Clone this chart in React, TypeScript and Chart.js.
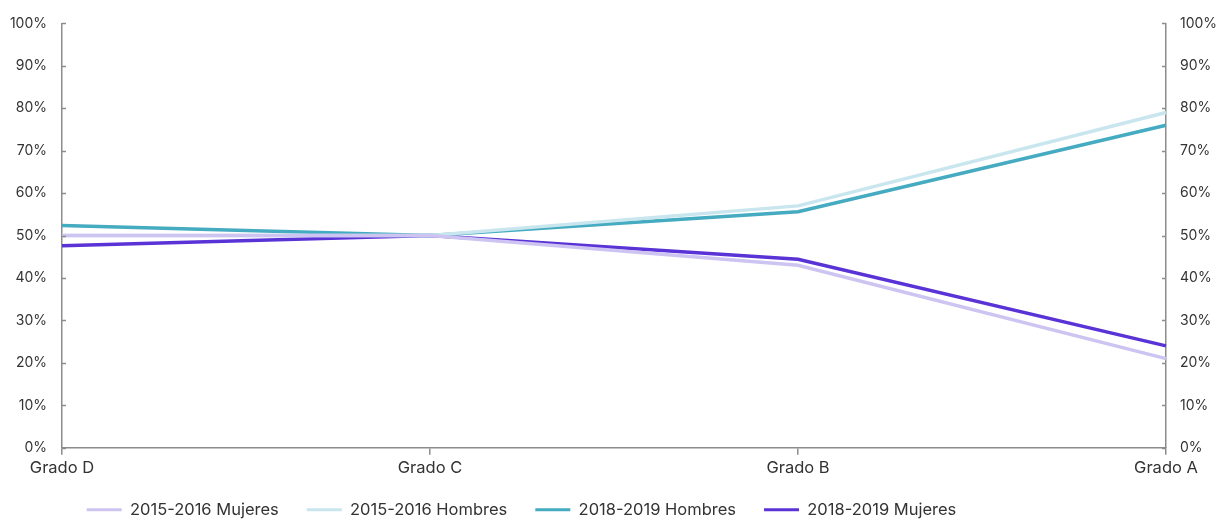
import React, { useEffect, useRef } from "react";
import { Chart, registerables } from "chart.js";

Chart.register(...registerables);

const categories = ["Grado D", "Grado C", "Grado B", "Grado A"];
const mujeres1516 = [50, 50, 43, 21];
const hombres1516 = [50, 50, 57, 79];
const hombres1819 = [52.4, 50, 55.6, 76];
const mujeres1819 = [47.6, 50, 44.4, 24];
const yTicks = [0, 10, 20, 30, 40, 50, 60, 70, 80, 90, 100];

const FONT = "Inter, 'Noto Sans', sans-serif";

const innerTicks = {
  id: "innerTicks",
  beforeDraw(chart: any) {
    if (chart.legend) {
      chart.legend.right = chart.legend.left + 1027;
    }
  },
  afterDraw(chart: any) {
    const ctx = chart.ctx;
    ctx.save();
    ctx.strokeStyle = "#8c8c8c";
    ctx.lineWidth = 1.5;
    ["y", "y2"].forEach((id) => {
      const s = chart.scales[id];
      if (!s) return;
      const x = id === "y" ? chart.chartArea.left : chart.chartArea.right;
      const dir = id === "y" ? 1 : -1;
      s.ticks.forEach((t: any) => {
        const py = Math.round(s.getPixelForValue(t.value)) + 0.5;
        ctx.beginPath();
        ctx.moveTo(x, py);
        ctx.lineTo(x + dir * 4, py);
        ctx.stroke();
      });
    });
    ctx.restore();
  },
};

export default function App() {
  const ref = useRef<HTMLCanvasElement | null>(null);
  useEffect(() => {
    document.body.style.margin = "0";
    const ds = (label: string, data: number[], color: string) => ({
      label,
      data,
      borderColor: color,
      backgroundColor: color,
      borderWidth: 3.5,
      pointRadius: 0,
      tension: 0,
      yAxisID: "y",
    });
    const chart = new Chart(ref.current as HTMLCanvasElement, {
      type: "line",
      data: {
        labels: categories,
        datasets: [
          ds("2015-2016 Mujeres", mujeres1516, "#cdc4f1"),
          ds("2015-2016 Hombres", hombres1516, "#c9e6ef"),
          ds("2018-2019 Hombres", hombres1819, "#45abc1"),
          ds("2018-2019 Mujeres", mujeres1819, "#5a33d6"),
        ],
      },
      options: {
        animation: false,
        responsive: true,
        maintainAspectRatio: false,
        layout: { padding: { left: 8, right: 4, top: 6, bottom: 0 } },
        plugins: {
          tooltip: { enabled: false },
          legend: {
            position: "bottom",
            labels: {
              font: { family: FONT, size: 16.5 },
              color: "#333",
              boxWidth: 35,
              boxHeight: 3,
              padding: 28,
              generateLabels: (c: any) =>
                Chart.defaults.plugins.legend.labels
                  .generateLabels(c)
                  .map((l: any) => ({ ...l, lineWidth: 0, fillStyle: l.strokeStyle })),
            },
          },
        },
        scales: {
          x: {
            offset: false,
            afterFit: (s: any) => {
              s.height = 25.75;
            },
            grid: {
              drawOnChartArea: false,
              drawTicks: true,
              tickLength: 7,
              color: "#8c8c8c",
              lineWidth: 1.5,
            },
            border: { color: "#8c8c8c", width: 1.5 },
            ticks: {
              font: { family: FONT, size: 16.5 },
              color: "#333",
              padding: 3,
              maxRotation: 0,
            },
          },
          y: {
            min: 0,
            max: 100,
            afterBuildTicks: (s: any) => {
              s.ticks = yTicks.map((v) => ({ value: v }));
            },
            afterFit: (s: any) => {
              s.width = 54;
            },
            grid: { drawOnChartArea: false, drawTicks: false },
            border: { color: "#8c8c8c", width: 1.5 },
            ticks: {
              font: { family: FONT, size: 14 },
              color: "#333",
              padding: 15,
              callback: (v: any) => v + "%",
            },
          },
          y2: {
            position: "right",
            min: 0,
            max: 100,
            afterBuildTicks: (s: any) => {
              s.ticks = yTicks.map((v) => ({ value: v }));
            },
            afterFit: (s: any) => {
              s.width = 51;
            },
            grid: { drawOnChartArea: false, drawTicks: false },
            border: { color: "#8c8c8c", width: 1.5 },
            ticks: {
              font: { family: FONT, size: 14 },
              color: "#333",
              padding: 14,
              callback: (v: any) => v + "%",
            },
          },
        },
      },
      plugins: [innerTicks],
    } as any);
    return () => chart.destroy();
  }, []);
  return (
    <div style={{ width: 1221, height: 519, overflow: "hidden", position: "relative" }}>
      <div style={{ width: 1221, height: 528, position: "relative" }}>
        <canvas ref={ref} />
      </div>
    </div>
  );
}
